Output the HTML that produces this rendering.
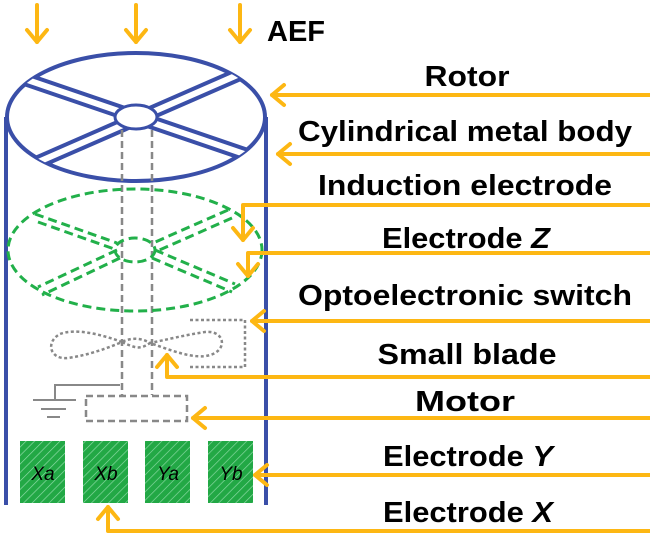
<!DOCTYPE html>
<html><head><meta charset="utf-8"><style>html,body{margin:0;padding:0;background:#fff}svg{display:block}</style></head><body>
<svg width="650" height="538" viewBox="0 0 650 538" xmlns="http://www.w3.org/2000/svg">
<defs>
<clipPath id="ce"><ellipse cx="136" cy="117" rx="129" ry="64"/></clipPath>
<pattern id="hatch" width="6" height="6" patternUnits="userSpaceOnUse" patternTransform="rotate(45)">
<rect width="6" height="6" fill="#22a845"/><line x1="0" y1="0" x2="0" y2="6" stroke="#8fdca8" stroke-width="1.3"/></pattern>
</defs>
<g stroke="#FDB713" stroke-width="4" fill="none" stroke-linecap="round" stroke-linejoin="round">
<line x1="37" y1="5" x2="37" y2="42"/><polyline points="27,30 37,42 47,30"/>
<line x1="136" y1="5" x2="136" y2="42"/><polyline points="126,30 136,42 146,30"/>
<line x1="240" y1="5" x2="240" y2="42"/><polyline points="230,30 240,42 250,30"/>
</g>
<text x="267" y="41" font-family="Liberation Sans, sans-serif" font-weight="bold" font-size="29">AEF</text>
<g stroke="#3a4fa8" stroke-width="4" fill="none">
<line x1="6" y1="117" x2="6" y2="505"/><line x1="266" y1="117" x2="266" y2="505"/>
<ellipse cx="136" cy="117" rx="129" ry="64" fill="#fff"/>
<g clip-path="url(#ce)">
<line x1="10" y1="74" x2="262" y2="160" stroke-width="14"/>
<line x1="10" y1="74" x2="262" y2="160" stroke="#fff" stroke-width="6"/>
<line x1="258" y1="66" x2="20" y2="170" stroke-width="14"/>
<line x1="258" y1="66" x2="20" y2="170" stroke="#fff" stroke-width="6"/>
</g>
<ellipse cx="136" cy="117" rx="21" ry="12" fill="#fff" stroke-width="3"/>
</g>
<g stroke="#888" stroke-width="2.5" fill="none" stroke-dasharray="7,4">
<line x1="122" y1="130" x2="122" y2="395"/><line x1="152" y1="130" x2="152" y2="395"/>
<rect x="86" y="396" width="101" height="25"/>
</g>
<g stroke="#22b04a" stroke-width="3" fill="none" stroke-dasharray="9,5">
<ellipse cx="135" cy="250" rx="127" ry="61"/>
<ellipse cx="135" cy="250" rx="20" ry="12"/>
<line x1="35" y1="214" x2="117" y2="243"/><line x1="38" y1="222" x2="117" y2="250"/>
<line x1="155" y1="250" x2="235" y2="284"/><line x1="152" y1="258" x2="232" y2="292"/>
<line x1="228" y1="210" x2="153" y2="243"/><line x1="232" y1="218" x2="155" y2="252"/>
<line x1="117" y1="250" x2="38" y2="287"/><line x1="120" y1="258" x2="42" y2="295"/>
</g>
<g stroke="#888" stroke-width="2.5" fill="none" stroke-dasharray="3,2.5">
<path d="M122,342 C100,334 75,328 60,334 C45,342 50,360 68,358 C90,355 110,347 122,342 C135,348 140,350 150,343 C170,350 195,360 210,355 C228,350 225,330 205,332 C185,335 165,340 150,343 C140,337 130,338 122,342Z"/>
<polyline points="190,320 245,320 245,367 190,367"/>
</g>
<g stroke="#888" stroke-width="2" fill="none">
<polyline points="120,385 55,385 55,400"/>
<line x1="33" y1="400" x2="76" y2="400"/><line x1="41" y1="409" x2="66" y2="409"/><line x1="47" y1="417" x2="60" y2="417"/>
</g>
<g fill="url(#hatch)">
<rect x="20" y="441" width="45" height="62"/><rect x="83" y="441" width="45" height="62"/>
<rect x="145" y="441" width="45" height="62"/><rect x="208" y="441" width="45" height="62"/>
</g>
<g font-family="Liberation Sans, sans-serif" font-style="italic" font-size="19" text-anchor="middle" fill="#000">
<text x="43" y="480">Xa</text><text x="106" y="480">Xb</text><text x="168" y="480">Ya</text><text x="231" y="480">Yb</text>
</g>
<g stroke="#FDB713" stroke-width="4" fill="none" stroke-linecap="round" stroke-linejoin="round">
<line x1="650" y1="95" x2="272" y2="95"/><polyline points="284,85 272,95 284,105"/>
<line x1="650" y1="154" x2="278" y2="154"/><polyline points="290,144 278,154 290,164"/>
<polyline points="650,205 243,205 243,240"/><polyline points="233,228 243,240 253,228"/>
<polyline points="650,253 248,253 248,276"/><polyline points="238,264 248,276 258,264"/>
<line x1="650" y1="321" x2="252" y2="321"/><polyline points="264,311 252,321 264,331"/>
<polyline points="650,377 167,377 167,355"/><polyline points="157,367 167,355 177,367"/>
<line x1="650" y1="418" x2="193" y2="418"/><polyline points="205,408 193,418 205,428"/>
<line x1="650" y1="475" x2="255" y2="475"/><polyline points="267,465 255,475 267,485"/>
<polyline points="650,531 108,531 108,507"/><polyline points="98,519 108,507 118,519"/>
</g>
<g font-family="Liberation Sans, sans-serif" font-weight="bold" font-size="29" text-anchor="middle" fill="#000">
<text x="467" y="86" textLength="85" lengthAdjust="spacingAndGlyphs">Rotor</text>
<text x="465" y="141" textLength="334" lengthAdjust="spacingAndGlyphs">Cylindrical metal body</text>
<text x="465" y="195" textLength="294" lengthAdjust="spacingAndGlyphs">Induction electrode</text>
<text x="466" y="248" textLength="168" lengthAdjust="spacingAndGlyphs">Electrode <tspan font-style="italic">Z</tspan></text>
<text x="465" y="305" textLength="334" lengthAdjust="spacingAndGlyphs">Optoelectronic switch</text>
<text x="467" y="364" textLength="179" lengthAdjust="spacingAndGlyphs">Small blade</text>
<text x="465" y="411" textLength="100" lengthAdjust="spacingAndGlyphs">Motor</text>
<text x="468" y="466" textLength="170" lengthAdjust="spacingAndGlyphs">Electrode <tspan font-style="italic">Y</tspan></text>
<text x="468" y="522" textLength="170" lengthAdjust="spacingAndGlyphs">Electrode <tspan font-style="italic">X</tspan></text>
</g>
</svg>
</body></html>
